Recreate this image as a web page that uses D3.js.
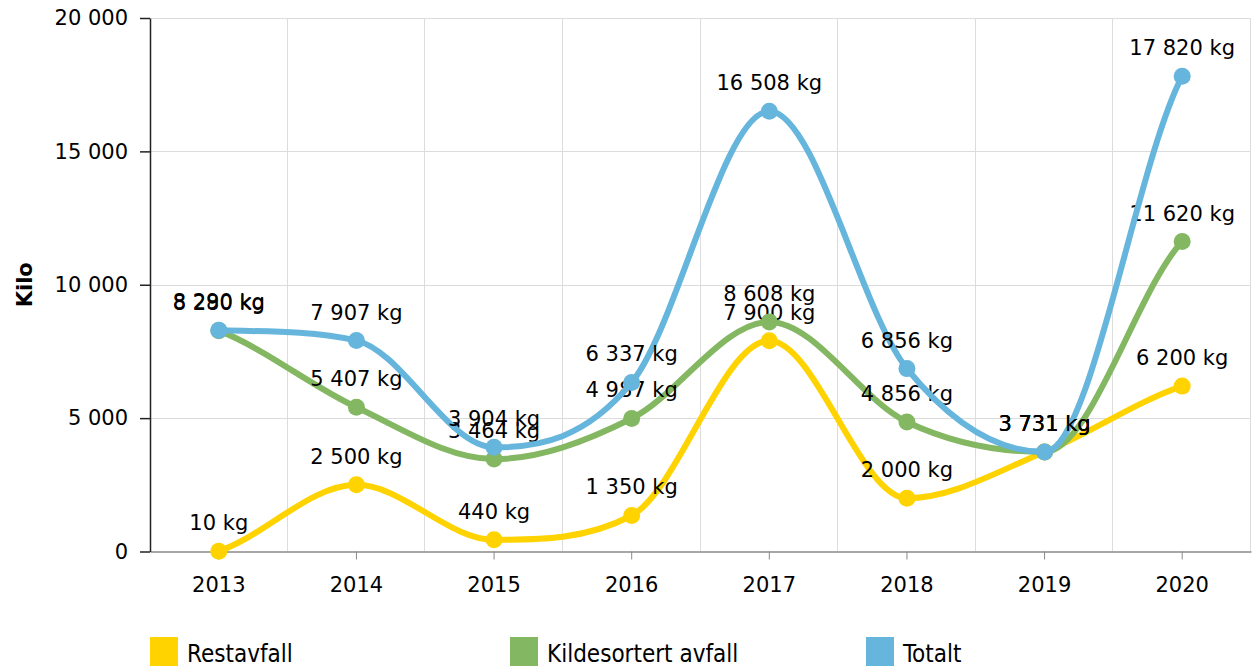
<!DOCTYPE html>
<html>
<head>
<meta charset="utf-8">
<script src="https://cdn.jsdelivr.net/npm/d3@7"></script>
<style>
  body { margin: 0; background: #fff; }
  text { font-family: "DejaVu Sans", Verdana, sans-serif; }
</style>
</head>
<body>
<div id="wrap"></div>
<script>
// data
var years = ["2013", "2014", "2015", "2016", "2017", "2018", "2019", "2020"];
var restavfall = [10, 2500, 440, 1350, 7900, 2000, 3731, 6200];
var kildesortert = [8280, 5407, 3464, 4987, 8608, 4856, 3731, 11620];
var totalt = [8290, 7907, 3904, 6337, 16508, 6856, 3731, 17820];
var yTicks = [0, 5000, 10000, 15000, 20000];

var seriesNames = ["Restavfall", "Kildesortert avfall", "Totalt"];
var seriesColors = ["#ffd300", "#84b762", "#66b5dc"];
var seriesValues = [restavfall, kildesortert, totalt];

var width = 1256, height = 670;
var plotLeft = 150, plotRight = 1251, plotTop = 18, plotBottom = 551.5;
var font_size = '21px';

var locale = d3.formatLocale({ decimal: ",", thousands: " ", grouping: [3], currency: ["", " kr"] });
var fmt = locale.format(",d");

var svg = d3.select('#wrap')
  .append('svg')
  .attr("width", width)
  .attr("height", height);

var x = d3.scaleBand().domain(years).range([plotLeft, plotRight]);
var y = d3.scaleLinear().domain([0, 20000]).range([plotBottom, plotTop]);
var cx = (d, i) => x(years[i]) + x.bandwidth() / 2;

// grid
var grid = svg.append("g");
grid.selectAll(".hg")
  .data(yTicks.slice(1))
  .join("line")
  .attr("x1", plotLeft).attr("x2", plotRight)
  .attr("y1", d => Math.round(y(d)) + 0.5).attr("y2", d => Math.round(y(d)) + 0.5)
  .attr("stroke", "#dcdcdc").attr("stroke-width", 1);
grid.selectAll(".vg")
  .data(years.slice(1).concat(["end"]))
  .join("line")
  .attr("x1", d => Math.round(d === "end" ? plotRight : x(d)) - 0.5)
  .attr("x2", d => Math.round(d === "end" ? plotRight : x(d)) - 0.5)
  .attr("y1", plotTop).attr("y2", plotBottom)
  .attr("stroke", "#dcdcdc").attr("stroke-width", 1);

// x axis
var xAxis = svg.append("g")
  .attr("transform", "translate(0," + plotBottom + ")")
  .call(d3.axisBottom(x).tickSize(8).tickPadding(18).tickSizeOuter(0));
xAxis.select(".domain").attr("stroke", "#8a8a8a").attr("stroke-width", 1.5);
xAxis.selectAll(".tick line").attr("stroke", "#8a8a8a");
xAxis.selectAll("text").style("font-size", font_size).attr("fill", "#000");

// y axis
var yAxis = svg.append("g")
  .attr("transform", "translate(" + plotLeft + ",0)")
  .call(d3.axisLeft(y).tickValues(yTicks).tickFormat(fmt).tickSize(10).tickPadding(12).tickSizeOuter(0));
yAxis.select(".domain").attr("stroke", "#222").attr("stroke-width", 1.5);
yAxis.selectAll(".tick line").attr("stroke", "#222").attr("stroke-width", 1.5);
yAxis.selectAll("text").style("font-size", font_size).attr("fill", "#000");

svg.append("text")
  .attr("transform", "translate(32," + ((plotTop + plotBottom) / 2) + ") rotate(-90)")
  .attr("text-anchor", "middle")
  .style("font-size", font_size)
  .style("font-weight", "bold")
  .text("Kilo");

// monotone spline, flat at extremes, softened slope at the ends
function splinePath(vals) {
  var px = vals.map((d, i) => cx(d, i));
  var py = vals.map(d => y(d));
  var n = px.length, dl = [], m = [];
  for (var i = 0; i < n - 1; i++) dl.push((py[i + 1] - py[i]) / (px[i + 1] - px[i]));
  m[0] = dl[0] * 0.7;
  m[n - 1] = dl[n - 2] * 0.7;
  for (var i = 1; i < n - 1; i++) {
    m[i] = (dl[i - 1] * dl[i] <= 0) ? 0 : (dl[i - 1] + dl[i]) / 2;
  }
  for (var i = 0; i < n - 1; i++) {
    if (Math.abs(dl[i]) < 1e-9) { m[i] = m[i + 1] = 0; continue; }
    var a = m[i] / dl[i], b = m[i + 1] / dl[i], s = a * a + b * b;
    if (s > 9) {
      var t = 3 / Math.sqrt(s);
      m[i] = a * t * dl[i];
      m[i + 1] = b * t * dl[i];
    }
  }
  var p = d3.path();
  p.moveTo(px[0], py[0]);
  for (var i = 0; i < n - 1; i++) {
    var h = (px[i + 1] - px[i]) / 3;
    p.bezierCurveTo(px[i] + h, py[i] + m[i] * h, px[i + 1] - h, py[i + 1] - m[i + 1] * h, px[i + 1], py[i + 1]);
  }
  return p.toString();
}

seriesValues.forEach(function (vals, s) {
  var g = svg.append("g");
  g.append("path")
    .attr("d", splinePath(vals))
    .attr("fill", "none")
    .attr("stroke", seriesColors[s])
    .attr("stroke-width", 6);
  g.selectAll("circle")
    .data(vals)
    .join("circle")
    .attr("cx", cx)
    .attr("cy", d => y(d))
    .attr("r", 8.5)
    .attr("fill", seriesColors[s]);
  g.selectAll("text")
    .data(vals)
    .join("text")
    .attr("x", cx)
    .attr("y", d => y(d) - 21)
    .attr("text-anchor", "middle")
    .style("font-size", font_size)
    .attr("fill", "#000")
    .text(d => fmt(d) + " kg");
});

// legend
var legendX = [150, 510, 866];
var legend = svg.append("g");
seriesNames.forEach(function (name, s) {
  legend.append("rect")
    .attr("x", legendX[s]).attr("y", 637)
    .attr("width", 28).attr("height", 29)
    .attr("fill", seriesColors[s]);
  legend.append("text")
    .attr("x", legendX[s] + 37).attr("y", 662)
    .style("font-family", "'DejaVu Sans Condensed', sans-serif")
    .style("font-size", "24px")
    .attr("fill", "#000")
    .text(name);
});
</script>
</body>
</html>
